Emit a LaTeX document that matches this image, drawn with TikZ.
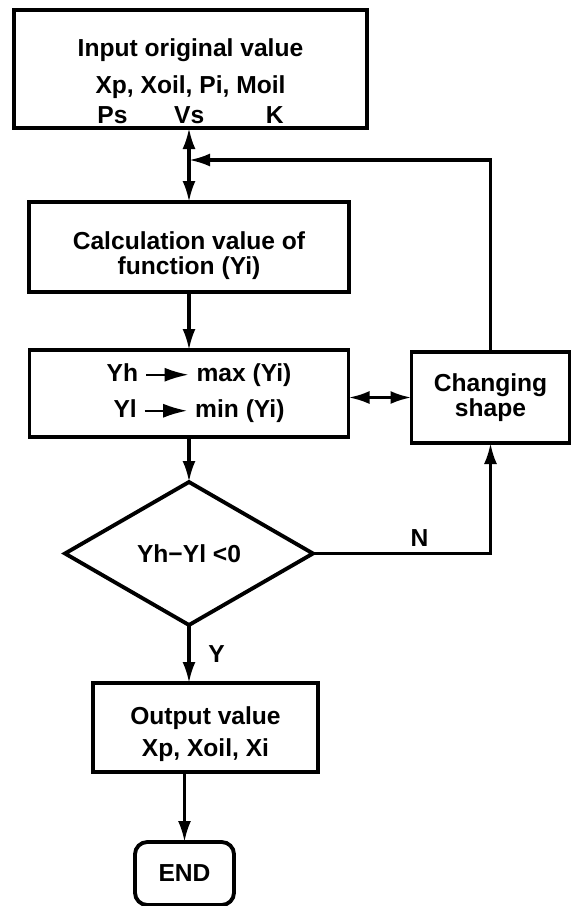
\documentclass[tikz,border=0pt]{standalone}
\usepackage{fontspec}
\setmainfont{Liberation Sans}
\usepackage{tikz}
\usetikzlibrary{arrows.meta,positioning,shapes.geometric}

\newcommand{\asgn}{\tikz[baseline=-0.29em]\draw[line width=1.3pt,-{Latex[length=4.8mm,width=2.8mm]}] (0,0) -- (0.85,0);}

\begin{document}
\begin{tikzpicture}[
  pbox/.style={draw, line width=2.2pt, inner sep=0pt, outer sep=0pt, align=center, font=\fontsize{14pt}{17pt}\selectfont\bfseries},
  dec/.style={draw, diamond, shape aspect=1.73, line width=2.2pt, inner sep=0pt, outer sep=0pt, minimum width=4.96cm, minimum height=2.86cm, font=\fontsize{14pt}{17pt}\selectfont\bfseries},
  term/.style={pbox, rounded corners=7pt},
  arr/.style={-{Latex[length=4.2mm,width=2.6mm]}, line width=1.8pt},
  dbl/.style={{Latex[length=4.2mm,width=2.6mm]}-{Latex[length=4.2mm,width=2.6mm]}, line width=1.8pt},
  lbl/.style={font=\fontsize{14pt}{17pt}\selectfont\bfseries},
]
  \useasboundingbox (0,0) rectangle (11.44,-18.12);

  \node[pbox, minimum width=7.06cm, minimum height=2.36cm] (input) at (3.81,-1.38) {\rule{0pt}{0.85cm}Input original value\\[4pt]Xp, Xoil, Pi, Moil\\Ps\hspace{1.9em}Vs\hspace{2.5em}K};
  \node[pbox, minimum width=6.40cm, minimum height=1.80cm, below=1.48cm of input, xshift=-0.03cm] (calc) {\rule{0pt}{0.70cm}Calculation value of\\[-3pt]function (Yi)};
  \node[pbox, minimum width=6.38cm, minimum height=1.74cm, below=1.16cm of calc] (extr) {\hspace*{0.4cm}Yh \asgn{} max (Yi)\\[3.5pt]\hspace*{0.4cm}Yl \asgn{} min (Yi)};
  \node[pbox, minimum width=3.16cm, minimum height=1.82cm, right=1.26cm of extr, yshift=-0.08cm] (shape) {Changing\\[-3pt]shape};
  \node[dec, below=0.9cm of extr] (cond) {Yh−Yl <0};
  \node[pbox, minimum width=4.50cm, minimum height=1.78cm, below=1.16cm of cond, xshift=0.33cm] (out) {\rule{0pt}{0.62cm}Output value\\[1pt]Xp, Xoil, Xi};
  \node[term, minimum width=1.98cm, minimum height=1.26cm, below=1.4cm of out, xshift=-0.42cm] (fin) {END};

  \coordinate (join) at (calc.north |- 0,-3.2);

  \draw[dbl] (calc.north |- input.south) -- (calc.north);
  \draw[arr] (shape.north) |- (join);
  \draw[arr] (calc) -- (extr);
  \draw[dbl] (shape.west) -- (shape.west -| extr.east);
  \draw[arr] (extr) -- (cond);
  \draw[arr] (cond.east) -| node[lbl, pos=0.3, above] {N} (shape.south);
  \draw[arr] (cond.south) -- node[lbl, right=0.24cm] {Y} (cond.south |- out.north);
  \draw[arr] (fin.north |- out.south) -- (fin.north);
\end{tikzpicture}
\end{document}
